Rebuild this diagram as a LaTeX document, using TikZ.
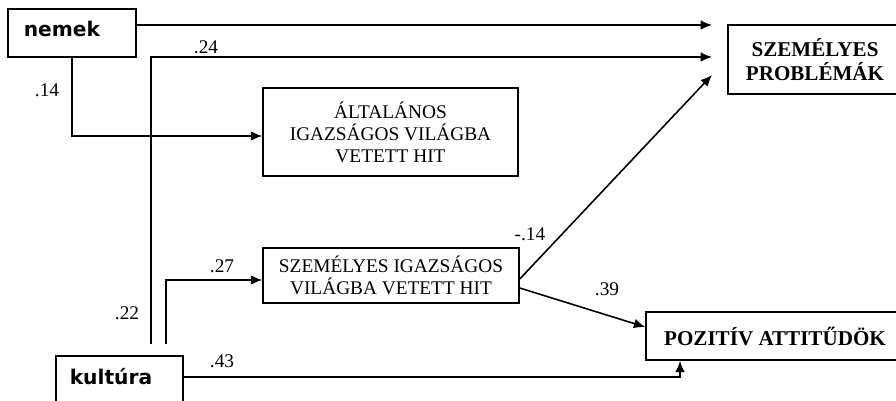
\documentclass[tikz,border=0pt]{standalone}
\usepackage{fontspec}
\setmainfont{Liberation Serif}
\newfontfamily\varfont{DejaVu Sans}
\usetikzlibrary{arrows.meta,calc}

\begin{document}
\begin{tikzpicture}[x=0.02cm, y=-0.02cm, >={Latex[length=6.5pt,width=5.5pt]}, line width=0.9pt,
    box/.style={draw, inner sep=0pt, align=center, font=\fontsize{11}{12.6}\selectfont},
    outbox/.style={box, font=\bfseries\fontsize{12}{14}\selectfont},
    varbox/.style={draw, inner ysep=0pt, align=left, anchor=north west, font=\varfont\bfseries\fontsize{11.5}{13}\selectfont},
    coef/.style={inner sep=0pt, font=\fontsize{11}{13}\selectfont}]
    \useasboundingbox (0,0) rectangle (896,400);
    \clip (0,0) rectangle (896,400);

    % Variables
    \node[varbox, inner xsep=0.32cm, text width=1.92cm, text height=0.56cm, text depth=0.4cm] (nemek) at (7,8) {nemek};
    \node[varbox, inner xsep=0.28cm, text width=1.98cm, text height=0.58cm, text depth=0.5cm] (kultura) at (55,355) {kultúra};

    % Mediators
    \node[box, minimum width=5.1cm, minimum height=1.76cm] (altalanos) at (390.5,132) {ÁLTALÁNOS\\IGAZSÁGOS VILÁGBA\\VETETT HIT};
    \node[box, minimum width=5.12cm, minimum height=1.1cm] (szemig) at (391,275.5) {SZEMÉLYES IGAZSÁGOS\\VILÁGBA VETETT HIT};

    % Outcomes
    \node[outbox, minimum width=3.48cm, minimum height=1.38cm] (problemak) at (815,59.5) {SZEMÉLYES\\PROBLÉMÁK};
    \node[outbox, minimum width=5.16cm, minimum height=0.96cm] (pozitiv) at (775,336) {POZITÍV ATTITŰDÖK};

    % Free ends of the paths towards the outcome
    \coordinate (tipA) at (712,25);
    \coordinate (tipB) at (712,57);
    \coordinate (tipC) at (712,75);

    % Paths
    \draw[->] (nemek.east |- tipA) -- (tipA);
    \draw[->] ($(kultura.north west)+(96,-11)$) |- (tipB);
    \draw[->] (nemek.south) |- ([yshift=-0.08cm]altalanos.west);
    \draw[->] ($(kultura.north west)+(111,-11)$) |- ([yshift=-0.09cm]szemig.west);
    \draw[->] ([yshift=-0.07cm]szemig.east) -- (tipC);
    \draw[->] ([yshift=-0.25cm]szemig.east) -- ([yshift=0.18cm]pozitiv.west);
    \draw[->] ([yshift=0.12cm]kultura.east) -| ([xshift=-1.9cm]pozitiv.south);

    % Coefficients
    \node[coef] (c24) at (206,47) {.24};
    \node[coef] (c14) at (47,90) {.14};
    \node[coef] (c22) at (127,313) {.22};
    \node[coef] (c27) at (222,266) {.27};
    \node[coef] (c43) at (222,361) {.43};
    \node[coef] (cm14) at (530,234) {-.14};
    \node[coef] (c39) at (607,289) {.39};
\end{tikzpicture}
\end{document}
